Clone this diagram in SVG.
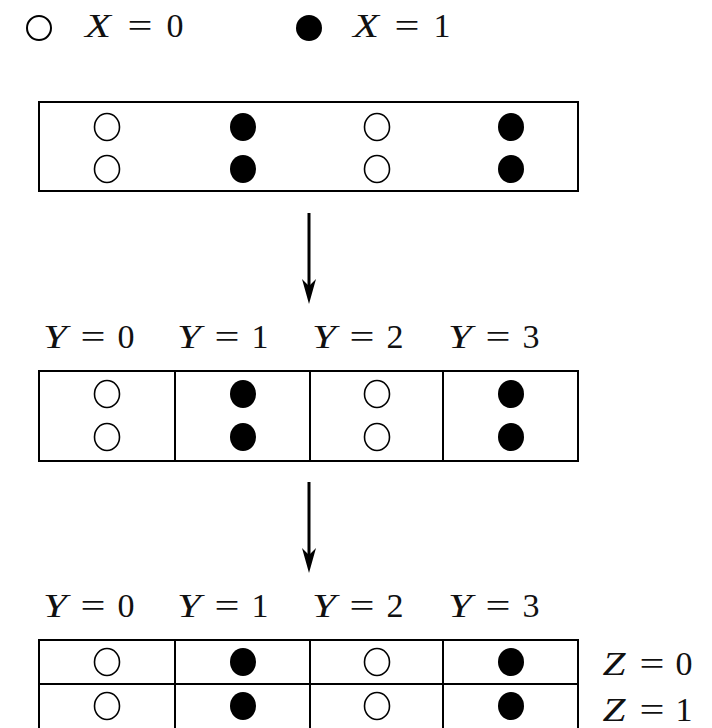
<svg xmlns="http://www.w3.org/2000/svg" width="712" height="728" viewBox="0 0 712 728">
<style>
.box{fill:none;stroke:#000;stroke-width:2}
.o{fill:#fff;stroke:#000;stroke-width:1.6}
.f{fill:#000}
text{font-family:'Liberation Serif','Times New Roman',serif;font-size:34px;text-anchor:middle;fill:#111}
.v{font-style:italic}
.ln{stroke:#000;stroke-width:3}
</style>
<defs>
<ellipse id="oc" class="o" cx="0" cy="0" rx="12.5" ry="13.5"/>
<ellipse id="fc" class="f" cx="0" cy="0" rx="13" ry="14"/>
<g id="yl">
<text class="v" x="15" y="0" textLength="24" lengthAdjust="spacingAndGlyphs">Y</text>
<text x="53" y="0" textLength="25" lengthAdjust="spacingAndGlyphs">=</text>
</g>
</defs>
<g id="legend">
<circle cx="39" cy="28" r="12" fill="#fff" stroke="#000" stroke-width="2"/>
<text class="v" x="98" y="37" textLength="26" lengthAdjust="spacingAndGlyphs">X</text><text x="140" y="37" textLength="25" lengthAdjust="spacingAndGlyphs">=</text><text x="175" y="37">0</text>
<circle cx="309" cy="28" r="13" fill="#000"/>
<text class="v" x="366" y="37" textLength="26" lengthAdjust="spacingAndGlyphs">X</text><text x="407" y="37" textLength="25" lengthAdjust="spacingAndGlyphs">=</text><text x="442" y="37">1</text>
</g>
<g id="box1">
<rect class="box" x="39" y="102" width="539" height="89"/>
<use href="#oc" x="107" y="127"/><use href="#fc" x="243" y="127"/><use href="#oc" x="377" y="127"/><use href="#fc" x="511" y="127"/>
<use href="#oc" x="107" y="169"/><use href="#fc" x="243" y="169"/><use href="#oc" x="377" y="169"/><use href="#fc" x="511" y="169"/>
</g>
<g id="labels2">
<use href="#yl" x="40" y="348"/><text x="126" y="348">0</text>
<use href="#yl" x="174" y="348"/><text x="260" y="348">1</text>
<use href="#yl" x="309" y="348"/><text x="395" y="348">2</text>
<use href="#yl" x="445" y="348"/><text x="531" y="348">3</text>
</g>
<g id="box2">
<rect class="box" x="39" y="371" width="539" height="90"/>
<path class="box" d="M175 371V461M310 371V461M443 371V461"/>
<use href="#oc" x="107" y="394"/><use href="#fc" x="243" y="394"/><use href="#oc" x="377" y="394"/><use href="#fc" x="511" y="394"/>
<use href="#oc" x="107" y="437"/><use href="#fc" x="243" y="437"/><use href="#oc" x="377" y="437"/><use href="#fc" x="511" y="437"/>
</g>
<g id="labels3">
<use href="#yl" x="40" y="617"/><text x="126" y="617">0</text>
<use href="#yl" x="174" y="617"/><text x="260" y="617">1</text>
<use href="#yl" x="309" y="617"/><text x="395" y="617">2</text>
<use href="#yl" x="445" y="617"/><text x="531" y="617">3</text>
</g>
<g id="box3">
<rect class="box" x="39" y="640" width="539" height="92"/>
<path class="box" d="M39 684H578M175 640V728M310 640V728M443 640V728"/>
<use href="#oc" x="107" y="662"/><use href="#fc" x="243" y="662"/><use href="#oc" x="377" y="662"/><use href="#fc" x="511" y="662"/>
<use href="#oc" x="107" y="706"/><use href="#fc" x="243" y="706"/><use href="#oc" x="377" y="706"/><use href="#fc" x="511" y="706"/>
</g>
<g id="zlabels">
<text class="v" x="614" y="675" textLength="23" lengthAdjust="spacingAndGlyphs">Z</text><text x="652" y="675" textLength="25" lengthAdjust="spacingAndGlyphs">=</text><text x="684" y="675">0</text>
<text class="v" x="614" y="721" textLength="23" lengthAdjust="spacingAndGlyphs">Z</text><text x="652" y="721" textLength="25" lengthAdjust="spacingAndGlyphs">=</text><text x="684" y="721">1</text>
</g>
<g id="connectors">
<line class="ln" x1="309" y1="213" x2="309" y2="290"/>
<path d="M302 279L309 304L316 279L309 286Z"/>
<line class="ln" x1="309" y1="482" x2="309" y2="558"/>
<path d="M302 548L309 573L316 548L309 555Z"/>
</g>
</svg>
